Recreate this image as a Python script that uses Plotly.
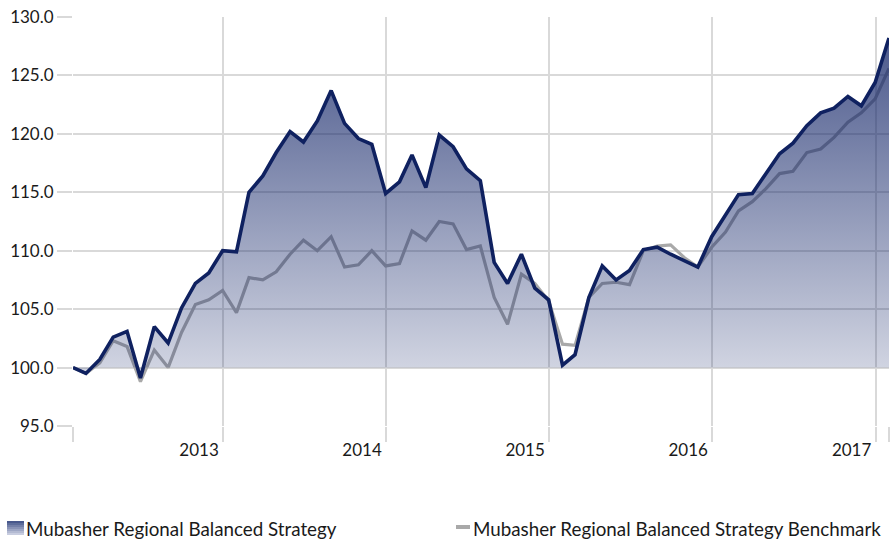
import plotly.graph_objects as go
import pandas as pd

dates = pd.date_range("2012-01-31", "2017-01-31", freq="ME").strftime("%Y-%m-%d").tolist()

strategy = [
    100.0, 99.5, 100.7, 102.6, 103.1, 99.1, 103.5, 102.1, 105.1, 107.2, 108.1, 110.0,
    109.9, 115.0, 116.4, 118.4, 120.2, 119.3, 121.1, 123.7, 120.9, 119.6, 119.1, 114.9,
    115.9, 118.2, 115.4, 119.9, 118.9, 117.0, 116.0, 109.0, 107.2, 109.7, 106.8, 105.8,
    100.2, 101.1, 106.0, 108.7, 107.5, 108.3, 110.1, 110.3, 109.7, 109.1, 108.6, 111.2,
    113.1, 114.8, 114.9, 116.6, 118.3, 119.2, 120.7, 121.8, 122.2, 123.2, 122.4, 124.4,
    128.2,
]
benchmark = [
    100.0, 99.5, 100.4, 102.3, 101.8, 98.8, 101.5, 100.0, 103.0, 105.4, 105.8, 106.6,
    104.7, 107.7, 107.5, 108.2, 109.7, 110.9, 110.0, 111.2, 108.6, 108.8, 110.0, 108.7,
    108.9, 111.7, 110.9, 112.5, 112.3, 110.1, 110.4, 106.0, 103.7, 108.0, 107.2, 105.7,
    102.0, 101.9, 106.0, 107.2, 107.3, 107.1, 110.0, 110.4, 110.5, 109.4, 108.6, 110.3,
    111.6, 113.4, 114.2, 115.3, 116.6, 116.8, 118.4, 118.7, 119.7, 121.0, 121.8, 123.0,
    125.6,
]
baseline_value = 100.0
series_names = ["Mubasher Regional Balanced Strategy", "Mubasher Regional Balanced Strategy Benchmark"]

y_ticks = [95, 100, 105, 110, 115, 120, 125, 130]
x_tickvals = ["2012-01-31", "2013-01-01", "2014-01-01", "2015-01-01", "2016-01-01", "2017-01-01", "2017-01-31"]
x_ticktext = ["", "2013", "2014", "2015", "2016", "2017", ""]

FONT = "Lato"
NAVY = "#0f2160"
GRAY = "#a9a9a9"
GRID = "#d9d9d9"
TEXT = "#1a1a1a"

W, H = 895, 539
ML, MR, MT, MB = 73, 6, 17, 113
PW, PH = W - ML - MR, H - MT - MB


def px_x(px):
    return (px - ML) / PW


def px_y(py):
    return (H - MB - py) / PH


fig = go.Figure()

# benchmark line (drawn under the strategy fill)
fig.add_trace(go.Scatter(
    x=dates, y=benchmark, mode="lines", line=dict(color=GRAY, width=3.2),
    name=series_names[1], showlegend=False,
))
# baseline for area fill
fig.add_trace(go.Scatter(
    x=dates, y=[baseline_value] * len(dates), mode="lines",
    line=dict(width=0, color="rgba(0,0,0,0)"), showlegend=False, hoverinfo="skip",
))
fig.add_trace(go.Scatter(
    x=dates, y=strategy, mode="lines", line=dict(color=NAVY, width=3.6),
    fill="tonexty", name=series_names[0],
    fillgradient=dict(
        type="vertical",
        colorscale=[[0, "rgba(20,38,105,0.20)"], [1, "rgba(20,38,105,0.76)"]],
        start=100, stop=128,
    ),
    showlegend=False,
))

# manual legend (icons + texts) at the bottom
shapes = []
icon_top, icon_bot = 521, 535
steps = 7
top_rgb = (72, 88, 140)
bot_rgb = (200, 205, 224)
for i in range(steps):
    t = i / (steps - 1)
    c = tuple(int(round(top_rgb[k] + (bot_rgb[k] - top_rgb[k]) * t)) for k in range(3))
    y0 = icon_top + (icon_bot - icon_top) * i / steps
    y1 = icon_top + (icon_bot - icon_top) * (i + 1) / steps
    shapes.append(dict(
        type="rect", xref="paper", yref="paper",
        x0=px_x(7), x1=px_x(24), y0=px_y(y1), y1=px_y(y0),
        fillcolor="rgb(%d,%d,%d)" % c, line=dict(width=0), layer="above",
    ))
shapes.append(dict(
    type="line", xref="paper", yref="paper",
    x0=px_x(456), x1=px_x(470), y0=px_y(527), y1=px_y(527),
    line=dict(color=GRAY, width=4), layer="above",
))

annotations = [
    dict(text=series_names[0], xref="paper", yref="paper", x=px_x(24), y=px_y(528),
         xanchor="left", yanchor="middle", showarrow=False,
         font=dict(family=FONT, size=18.8, color=TEXT)),
    dict(text=series_names[1], xref="paper", yref="paper", x=px_x(471), y=px_y(528),
         xanchor="left", yanchor="middle", showarrow=False,
         font=dict(family=FONT, size=18.8, color=TEXT)),
]

fig.update_layout(
    width=W, height=H,
    margin=dict(l=ML, r=MR, t=MT, b=MB),
    paper_bgcolor="white", plot_bgcolor="white",
    font=dict(family=FONT, size=17, color=TEXT),
    showlegend=False,
    shapes=shapes,
    annotations=annotations,
    xaxis=dict(
        type="date", range=["2012-01-31", "2017-01-31"],
        tickmode="array", tickvals=x_tickvals, ticktext=x_ticktext,
        showgrid=True, gridcolor=GRID, gridwidth=2,
        ticks="outside", ticklen=15, tickcolor=GRID, tickwidth=2,
        ticklabelshift=-24, ticklabelstandoff=-6,
        showline=False, zeroline=False, automargin=False,
        tickfont=dict(family=FONT, size=17, color=TEXT),
    ),
    yaxis=dict(
        range=[95, 130], tickmode="array", tickvals=y_ticks,
        tickformat=".1f", showgrid=True, gridcolor=GRID, gridwidth=2,
        ticks="outside", ticklen=15, tickcolor=GRID, tickwidth=2,
        zeroline=False, showline=False, automargin=False,
        tickfont=dict(family=FONT, size=17, color=TEXT),
    ),
)

fig.write_html(
    "out.html",
    config={"displayModeBar": False},
    post_script="document.body.style.margin='0';document.body.style.overflow='hidden';",
)
